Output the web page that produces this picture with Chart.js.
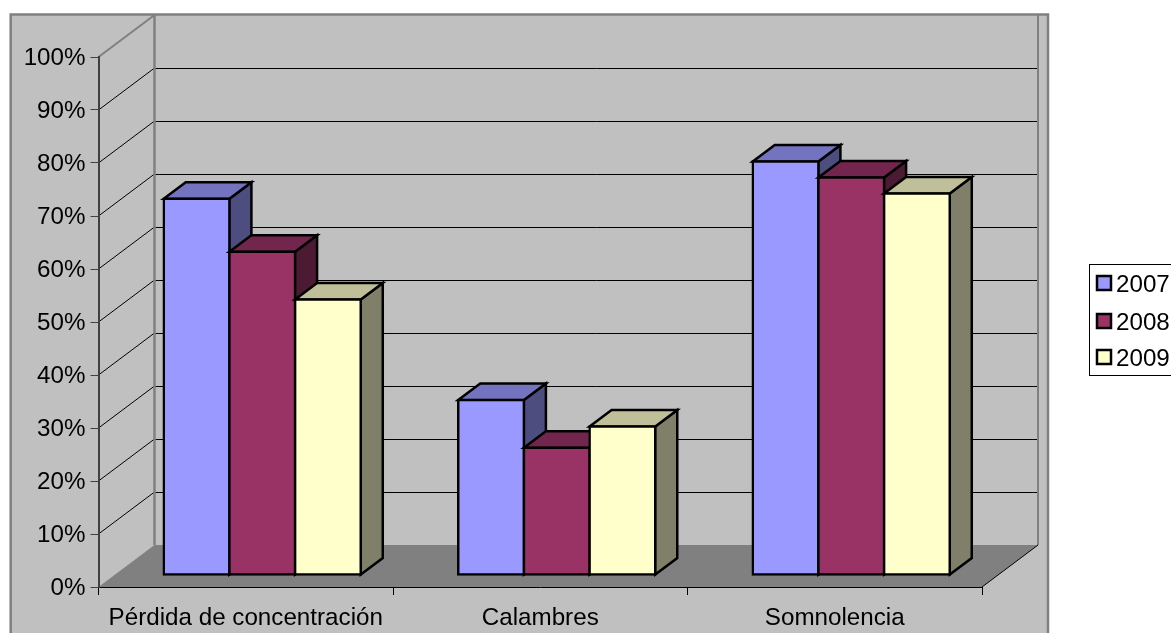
<!DOCTYPE html>
<html>
<head>
<meta charset="utf-8">
<style>
    html, body { margin: 0; padding: 0; background: #FFFFFF; overflow: hidden; }
    #sintomas-wrap { width: 1171px; height: 633px; }
</style>
<script src="https://cdn.jsdelivr.net/npm/chart.js@4/dist/chart.umd.min.js"></script>
</head>
<body>
<div id="sintomas-wrap"><canvas id="sintomas-chart"></canvas></div>
<script>
var categories = ['Pérdida de concentración', 'Calambres', 'Somnolencia']
var years = ['2007', '2008', '2009']
var values2007 = [71, 33, 78]
var values2008 = [61, 24, 75]
var values2009 = [52, 28, 72]
var frontColors = ['#9999FF', '#993366', '#FFFFCC']
var topColors = ['#7373BF', '#73264D', '#BFBF99']
var sideColors = ['#4D4D80', '#4D1A33', '#80806A']

const FONT = 'Liberation Sans, Arial, sans-serif'
const FONT_SIZE = 24.2
const BAR_LINE = 2.5
// depth of the floor, and how far the bars stand in from the front edge
const DEPTH_X = 56
const DEPTH_Y = 42
const BAR_SHIFT_X = 16.5
const BAR_SHIFT_Y = 12
const BAR_DEPTH_X = 22
const BAR_DEPTH_Y = 16.5

function polygon(ctx, points, fill) {
    ctx.beginPath()
    ctx.moveTo(points[0][0], points[0][1])
    for (let p = 1; p < points.length; p++) {
        ctx.lineTo(points[p][0], points[p][1])
    }
    ctx.closePath()
    ctx.fillStyle = fill
    ctx.fill()
}

function line(ctx, x1, y1, x2, y2, color, width) {
    ctx.beginPath()
    ctx.moveTo(x1, y1)
    ctx.lineTo(x2, y2)
    ctx.strokeStyle = color
    ctx.lineWidth = width
    ctx.stroke()
}

// background, floor and the two walls behind the bars
const wallsPlugin = {
    id: 'walls',
    beforeDraw(chart) {
        const ctx = chart.ctx
        const area = chart.chartArea
        const yScale = chart.scales.y
        ctx.save()
        ctx.fillStyle = '#C0C0C0'
        ctx.fillRect(10, 14, 1038, 640)
        ctx.strokeStyle = '#808080'
        ctx.lineWidth = 2.5
        ctx.strokeRect(10.7, 14.5, 1037.3, 640)

        const y0 = yScale.getPixelForValue(0)
        polygon(ctx, [[area.left, y0], [area.right, y0],
            [area.right + DEPTH_X, y0 - DEPTH_Y], [area.left + DEPTH_X, y0 - DEPTH_Y]], '#808080')

        yScale.ticks.forEach((tick) => {
            const y = yScale.getPixelForValue(tick.value)
            if (tick.value > 0 && tick.value < 100) {
                line(ctx, area.left, y, area.left + DEPTH_X, y - DEPTH_Y, '#000000', 1)
                line(ctx, area.left + DEPTH_X, y - DEPTH_Y + 0.5, area.right + DEPTH_X, y - DEPTH_Y + 0.5, '#000000', 1)
            }
        })

        const yTop = yScale.getPixelForValue(100)
        line(ctx, area.left, yTop, area.left + DEPTH_X, yTop - DEPTH_Y, '#808080', 2)
        line(ctx, area.left + DEPTH_X, yTop - DEPTH_Y, area.left + DEPTH_X, y0 - DEPTH_Y, '#808080', 2.5)
        line(ctx, area.right + DEPTH_X, yTop - DEPTH_Y, area.right + DEPTH_X, y0 - DEPTH_Y, '#808080', 2)
        line(ctx, area.right, y0, area.right + DEPTH_X, y0 - DEPTH_Y, '#000000', 1)
        ctx.restore()
    },
    // series are painted first to last so each bar covers its neighbour's side face
    beforeDatasetsDraw(chart) {
        const ctx = chart.ctx
        ctx.save()
        ctx.translate(BAR_SHIFT_X, -BAR_SHIFT_Y)
        for (let i = 0; i < chart.data.datasets.length; i++) {
            const meta = chart.getDatasetMeta(i)
            meta.data.forEach((bar) => {
                const left = bar.x - bar.width / 2
                const right = bar.x + bar.width / 2
                const dx = BAR_DEPTH_X
                const dy = BAR_DEPTH_Y
                ctx.lineJoin = 'miter'
                polygon(ctx, [[right, bar.y], [right + dx, bar.y - dy], [right + dx, bar.base - dy], [right, bar.base]], sideColors[i])
                ctx.strokeStyle = '#000000'
                ctx.lineWidth = BAR_LINE
                ctx.stroke()
                polygon(ctx, [[left, bar.y], [left + dx, bar.y - dy], [right + dx, bar.y - dy], [right, bar.y]], topColors[i])
                ctx.stroke()
            })
            meta.controller.draw()
        }
        ctx.restore()
        return false
    },
    afterDraw(chart) {
        const ctx = chart.ctx
        ctx.save()
        ctx.strokeStyle = '#000000'
        ctx.lineWidth = 1
        ctx.strokeRect(1089.5, 264.5, 90, 111)
        ctx.font = FONT_SIZE + 'px ' + FONT
        ctx.textBaseline = 'alphabetic'
        years.forEach((year, i) => {
            const y = [283, 321, 357][i]
            ctx.fillStyle = frontColors[i]
            ctx.fillRect(1097, y - 7, 14, 14)
            ctx.strokeStyle = '#000000'
            ctx.lineWidth = BAR_LINE
            ctx.strokeRect(1097, y - 7, 14, 14)
            ctx.fillStyle = '#000000'
            ctx.fillText(year, 1116, y + 8.5)
        })
        ctx.restore()
    }
}

function makeDataset(label, data, index) {
    return {
        label: label,
        data: data,
        backgroundColor: frontColors[index],
        borderColor: '#000000',
        borderWidth: BAR_LINE,
        borderSkipped: false,
        inflateAmount: BAR_LINE / 2,
        categoryPercentage: 0.669,
        barPercentage: 1
    }
}

Chart.defaults.font.family = FONT
Chart.defaults.font.size = FONT_SIZE
Chart.defaults.color = '#000000'

new Chart(document.getElementById('sintomas-chart').getContext('2d'), {
    type: 'bar',
    plugins: [wallsPlugin],
    data: {
        labels: categories,
        datasets: [
            makeDataset(years[0], values2007, 0),
            makeDataset(years[1], values2008, 1),
            makeDataset(years[2], values2009, 2)
        ]
    },
    options: {
        responsive: true,
        maintainAspectRatio: false,
        animation: false,
        layout: { padding: { left: 0, top: 57, right: 189, bottom: 0 } },
        plugins: {
            legend: { display: false },
            tooltip: { enabled: false }
        },
        scales: {
            x: {
                afterFit: (scale) => { scale.height = 46 },
                grid: { drawOnChartArea: false, drawTicks: true, tickLength: 8, color: '#000000', offset: true },
                border: { color: '#000000', width: 1 },
                ticks: { padding: 9, maxRotation: 0, autoSkip: false }
            },
            y: {
                min: 0,
                max: 100,
                afterFit: (scale) => { scale.width = 98.5 },
                grid: { drawOnChartArea: false, drawTicks: true, tickLength: 8, color: '#404040' },
                border: { color: '#404040', width: 2 },
                ticks: {
                    stepSize: 10,
                    padding: 5,
                    labelOffset: 1.5,
                    callback: (value) => value + '%'
                }
            }
        }
    }
})
</script>
</body>
</html>
